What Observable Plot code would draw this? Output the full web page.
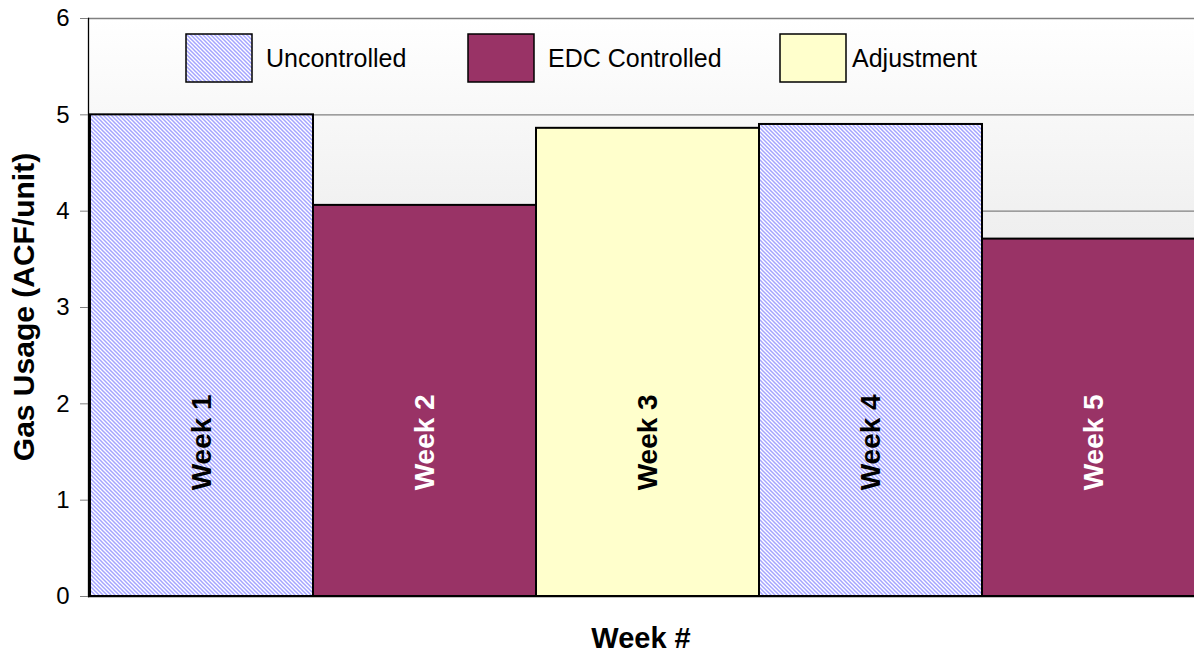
<!DOCTYPE html>
<html><head><meta charset="utf-8">
<script src="https://cdn.jsdelivr.net/npm/d3@7"></script>
<script src="https://cdn.jsdelivr.net/npm/@observablehq/plot@0.6"></script>
<style>
body{margin:0;background:#fff;overflow:hidden;}
svg{display:block}
</style>
</head><body><div id="chart"></div>
<script>
const weeks = ["Week 1","Week 2","Week 3","Week 4","Week 5"];
const values = [5.0, 4.06, 4.86, 4.90, 3.71];
const types = ["Uncontrolled","EDC Controlled","Adjustment","Uncontrolled","EDC Controlled"];
const yTicks = [0,1,2,3,4,5,6];
const legendLabels = ["Uncontrolled","EDC Controlled","Adjustment"];
const fills = {"Uncontrolled":"url(#hatch)","EDC Controlled":"#993366","Adjustment":"#ffffcc"};
const textColors = {"Uncontrolled":"black","EDC Controlled":"white","Adjustment":"black"};
const labelY = 1.6;
const yTitle = "Gas Usage (ACF/unit)";
const xTitle = "Week #";

const data = weeks.map((w,i)=>({week:w, value:values[i], type:types[i]}));
const W = 1194, H = 653;
const mL = 88, mR = -12, mT = 18, mB = 57;
const font = "'Liberation Sans', Arial, sans-serif";

const barMarks = legendLabels.map(t => Plot.barY(data.filter(d=>d.type===t), {
  x:"week", y:"value", fill: fills[t], stroke:"black", strokeWidth:2, inset:0
}));

const chart = Plot.plot({
  width: W, height: H,
  marginLeft: mL, marginRight: mR, marginTop: mT, marginBottom: mB,
  style: {fontFamily: font, background:"white"},
  x: {domain: weeks, padding: 0, axis: null},
  y: {domain: [0,6]},
  marks: [
    Plot.frame({fill:"url(#bggrad)", stroke:"none"}),
    Plot.ruleY(yTicks.filter(v=>v>0), {stroke:"#808080", strokeWidth:1.3}),
    ...barMarks,
    Plot.ruleY([0], {stroke:"black", strokeWidth:1.3}),
    Plot.frame({anchor:"left", stroke:"black", strokeWidth:1.3}),
    Plot.axisY({ticks: yTicks, tickSize: 8, tickPadding: 11, stroke:"#808080", fontSize: 24, fill:"black", label:null, tickFormat: d=>String(d)}),
    Plot.text(data, {x:"week", y: () => labelY, text:"week", rotate:-90, fontSize:28, fontWeight:"bold", fill: d=>textColors[d.type], fontFamily: font})
  ]
});

const svg = d3.select(chart);
const defs = svg.insert("defs", ":first-child");
const pat = defs.append("pattern").attr("id","hatch").attr("patternUnits","userSpaceOnUse")
  .attr("width",4).attr("height",4);
pat.append("rect").attr("width",4).attr("height",4).attr("fill","white");
pat.append("path").attr("d","M-1,-1 L5,5 M-1,3 L1,5 M3,-1 L5,1")
  .attr("stroke","#a4a4ff").attr("stroke-width",1.5);
const grad = defs.append("linearGradient").attr("id","bggrad").attr("x1",0).attr("y1",0).attr("x2",0).attr("y2",1);
grad.append("stop").attr("offset","0%").attr("stop-color","#ffffff");
grad.append("stop").attr("offset","100%").attr("stop-color","#d4d4d4");

// axis titles
svg.append("text").attr("transform",`translate(26,${(mT + H - mB)/2}) rotate(-90)`)
  .attr("text-anchor","middle").attr("dominant-baseline","middle")
  .attr("font-family",font).attr("font-size",30).attr("font-weight","bold").attr("fill","black").text(yTitle);
svg.append("text").attr("x", 88 + (W - 88)/2).attr("y", 640)
  .attr("text-anchor","middle").attr("dominant-baseline","middle")
  .attr("font-family",font).attr("font-size",29).attr("font-weight","bold").attr("fill","black").text(xTitle);

// legend
const swX = [186, 468, 780], txX = [266, 548, 852];
const lg = svg.append("g");
legendLabels.forEach((t,i)=>{
  lg.append("rect").attr("x",swX[i]).attr("y",34).attr("width",66).attr("height",48)
    .attr("fill",fills[t]).attr("stroke","black").attr("stroke-width",1.5);
  lg.append("text").attr("x",txX[i]).attr("y",60).attr("text-anchor","start").attr("dominant-baseline","middle")
    .attr("font-family",font).attr("font-size",25).attr("fill","black").text(t);
});

document.getElementById("chart").appendChild(chart);
</script>
</body></html>
